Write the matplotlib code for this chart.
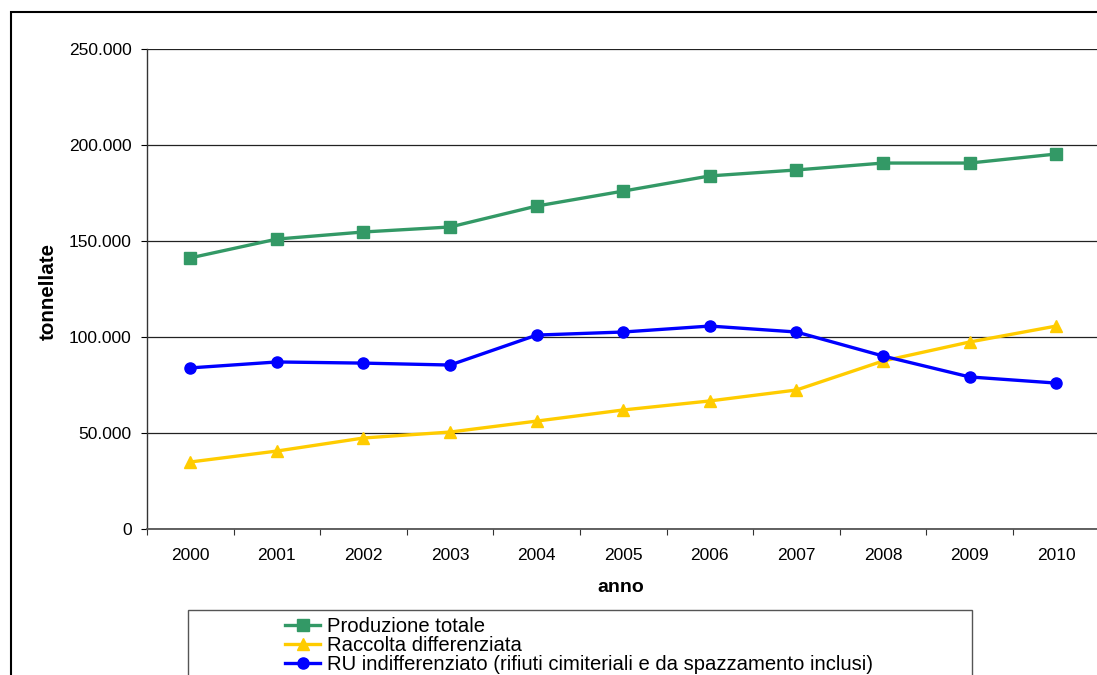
import matplotlib
matplotlib.use("Agg")
import matplotlib.pyplot as plt
from matplotlib.patches import Rectangle
from matplotlib.ticker import FixedLocator, NullFormatter, FuncFormatter

plt.rcParams['font.family'] = ['Liberation Sans', 'DejaVu Sans']

anni = ['2000', '2001', '2002', '2003', '2004', '2005', '2006', '2007', '2008', '2009', '2010']
produzione_totale = [141200, 151000, 154700, 157300, 168200, 176000, 183900, 187000, 190600, 190600, 195300]
raccolta_differenziata = [34900, 40600, 47400, 50500, 56200, 62000, 66700, 72400, 87500, 97400, 105700]
ru_indifferenziato = [83900, 87000, 86400, 85400, 101000, 102600, 105700, 102600, 90100, 79200, 76000]
y_ticks = [0, 50000, 100000, 150000, 200000, 250000]

labels = ['Produzione totale', 'Raccolta differenziata',
          'RU indifferenziato (rifiuti cimiteriali e da spazzamento inclusi)']

W, H = 1097, 675
fig = plt.figure(figsize=(W / 100, H / 100), dpi=100)
ax = fig.add_axes([147 / W, 1 - 529 / H, 952.5 / W, 480 / H])

x = list(range(len(anni)))
ax.plot(x, produzione_totale, color='#339966', lw=2.4, marker='s', ms=8, label=labels[0])
ax.plot(x, raccolta_differenziata, color='#FFCC00', lw=2.4, marker='^', ms=9, label=labels[1])
ax.plot(x, ru_indifferenziato, color='#0000FF', lw=2.4, marker='o', ms=8, label=labels[2])

ax.set_xlim(-0.5, len(anni) - 0.5)
ax.set_ylim(0, 250000)

# x axis: ticks at category boundaries, labels at centres
ax.xaxis.set_major_locator(FixedLocator([i - 0.5 for i in range(len(anni) + 1)]))
ax.xaxis.set_major_formatter(NullFormatter())
ax.xaxis.set_minor_locator(FixedLocator(x))
ax.set_xticklabels(anni, minor=True)
ax.tick_params(axis='x', which='major', direction='out', length=4.5, width=0.8, color='#333333')
ax.tick_params(axis='x', which='minor', length=0, pad=14, labelsize=12.5)

ax.set_yticks(y_ticks)
ax.yaxis.set_major_formatter(FuncFormatter(lambda v, p: f"{int(v):,}".replace(',', '.')))
ax.tick_params(axis='y', direction='out', length=4.5, width=0.8, pad=6.5, labelsize=12.5)

ax.grid(axis='y', color='#222222', lw=0.9)
ax.set_axisbelow(True)
for s in ['top', 'right']:
    ax.spines[s].set_visible(False)
ax.spines['left'].set_color('#333333')
ax.spines['bottom'].set_color('#555555')
ax.spines['left'].set_linewidth(1.0)
ax.spines['bottom'].set_linewidth(1.3)

fig.text(621 / W, 1 - 587 / H, 'anno', ha='center', va='center', fontsize=14, fontweight='bold')
fig.text(48 / W, 1 - 291 / H, 'tonnellate', ha='center', va='center', rotation=90,
         fontsize=14.8, fontweight='bold')

# outer chart border
fig.patches.append(Rectangle((11 / W, -0.1), 1.0, 1 - 12 / H + 0.1, transform=fig.transFigure,
                             fill=False, ec='black', lw=1.5, clip_on=False))
# legend box
fig.patches.append(Rectangle((188 / W, -0.1), (972 - 188) / W, 1 - 610 / H + 0.1,
                             transform=fig.transFigure, fill=False, ec='#555555', lw=1.0,
                             clip_on=False))

handles, lbls = ax.get_legend_handles_labels()
fig.legend(handles, lbls, loc='upper left', bbox_to_anchor=(285 / W, 1 - 617 / H),
           bbox_transform=fig.transFigure, frameon=False, fontsize=14.6,
           borderpad=0, borderaxespad=0, handlelength=1.75, handletextpad=0.3,
           labelspacing=0.0)

fig.savefig('out.png', dpi=100)
